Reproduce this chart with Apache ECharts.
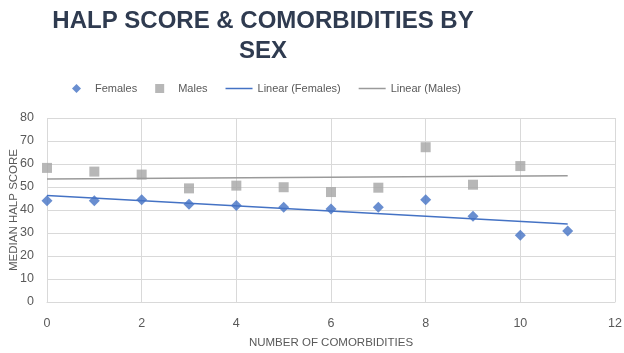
<!DOCTYPE html>
<html>
<head>
<meta charset="utf-8">
<script src="https://cdn.jsdelivr.net/npm/echarts@6/dist/echarts.min.js"></script>
<style>
  html, body { margin: 0; padding: 0; background: #fff; }
  #chart { width: 624px; height: 353px; }
</style>
</head>
<body>
<div id="chart"></div>
<script>
// median HALP score by number of comorbidities
const femaleX = [0, 1, 2, 3, 4, 5, 6, 7, 8, 9, 10, 11];
const femaleY = [44, 44, 44.5, 42.5, 42, 41.2, 40.4, 41.2, 44.5, 37.3, 29, 30.9];
const maleX = [0, 1, 2, 3, 4, 5, 6, 7, 8, 9, 10];
const maleY = [58.3, 56.7, 55.4, 49.4, 50.6, 49.9, 47.8, 49.7, 67.3, 51, 59.1];
const trendRange = [0, 11];

// least squares fit, like the excel "Linear" trendline
function linearFit (xs, ys) {
  let n = xs.length;
  let mx = xs.reduce((a, b) => a + b, 0) / n;
  let my = ys.reduce((a, b) => a + b, 0) / n;
  let sxy = 0;
  let sxx = 0;
  for (let i = 0; i < n; i++) {
    sxy += (xs[i] - mx) * (ys[i] - my);
    sxx += (xs[i] - mx) * (xs[i] - mx);
  }
  let slope = sxy / sxx;
  let icpt = my - slope * mx;
  return trendRange.map((x) => [x, icpt + slope * x]);
}

const zip = (xs, ys) => xs.map((x, i) => [x, ys[i]]);

const labelColor = '#595959';
const gridColor = '#d9d9d9';
const font = 'Liberation Sans';
const lineIcon = 'path://M0,0L27,0L27,1.5L0,1.5Z';

let myChart = echarts.init(document.getElementById('chart'));
myChart.setOption({
  animation: false,
  title: {
    text: 'HALP SCORE & COMORBIDITIES BY\nSEX',
    left: 258,
    top: 1,
    textAlign: 'center',
    textStyle: {
      fontFamily: font,
      fontWeight: 'bold',
      fontSize: 24,
      lineHeight: 30,
      color: '#2f3b50'
    }
  },
  legend: {
    left: 67,
    top: 78,
    itemWidth: 27,
    itemHeight: 9,
    itemGap: 18,
    textStyle: { fontFamily: font, fontSize: 11, color: labelColor },
    data: [
      { name: 'Females', icon: 'path://M0,-1L1,0L0,1L-1,0Z' },
      { name: 'Males', icon: 'path://M0,0L1,0L1,1L0,1Z' },
      { name: 'Linear (Females)', icon: lineIcon },
      { name: 'Linear (Males)', icon: lineIcon }
    ]
  },
  grid: { left: 47, right: 9, top: 118, bottom: 51, containLabel: false, outerBoundsMode: 'none' },
  xAxis: {
    type: 'value',
    min: 0,
    max: 12,
    interval: 2,
    name: 'NUMBER OF COMORBIDITIES',
    nameLocation: 'middle',
    nameGap: 35,
    nameMoveOverlap: false,
    nameTextStyle: { fontFamily: font, fontSize: 11.5, color: labelColor },
    axisLine: { lineStyle: { color: gridColor } },
    axisTick: { show: false },
    axisLabel: { fontFamily: font, fontSize: 12.5, color: labelColor, margin: 15 },
    splitLine: { show: true, lineStyle: { color: gridColor, width: 1 } }
  },
  yAxis: {
    type: 'value',
    min: 0,
    max: 80,
    interval: 10,
    name: 'MEDIAN HALP SCORE',
    nameLocation: 'middle',
    nameGap: 27,
    nameMoveOverlap: false,
    nameTextStyle: { fontFamily: font, fontSize: 11.5, color: labelColor },
    axisLine: { show: false },
    axisTick: { show: false },
    axisLabel: { fontFamily: font, fontSize: 12.5, color: labelColor, margin: 13 },
    splitLine: { show: true, lineStyle: { color: gridColor, width: 1 } }
  },
  series: [
    {
      name: 'Females',
      type: 'scatter',
      symbol: 'diamond',
      symbolSize: 11,
      itemStyle: { color: '#4472c4' },
      data: zip(femaleX, femaleY),
      z: 3
    },
    {
      name: 'Males',
      type: 'scatter',
      symbol: 'rect',
      symbolSize: 10,
      itemStyle: { color: '#a5a5a5' },
      data: zip(maleX, maleY),
      z: 3
    },
    {
      name: 'Linear (Females)',
      type: 'line',
      symbol: 'none',
      lineStyle: { color: '#4472c4', width: 1.5 },
      itemStyle: { color: '#4472c4' },
      data: linearFit(femaleX, femaleY),
      z: 4
    },
    {
      name: 'Linear (Males)',
      type: 'line',
      symbol: 'none',
      lineStyle: { color: '#9a9a9a', width: 1.5 },
      itemStyle: { color: '#9a9a9a' },
      data: linearFit(maleX, maleY),
      z: 4
    }
  ]
});
</script>
</body>
</html>
